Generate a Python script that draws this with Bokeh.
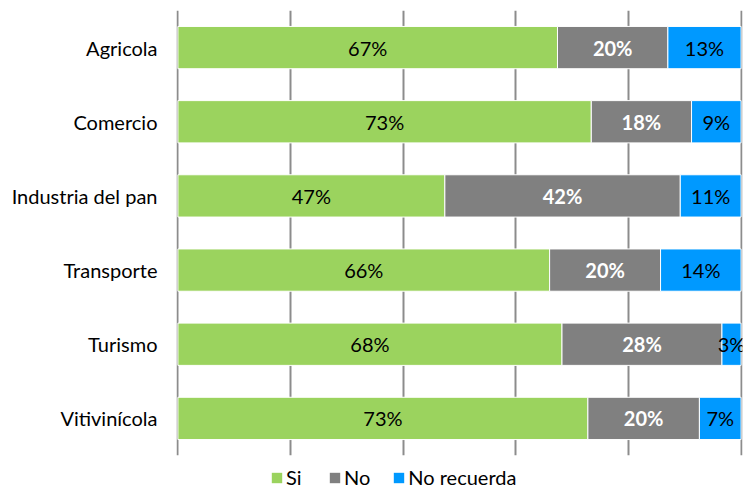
from bokeh.plotting import figure
from bokeh.layouts import column
from bokeh.models import ColumnDataSource, FactorRange, FixedTicker, Legend, LegendItem
from bokeh.core.properties import value
from bokeh.embed import file_html
from bokeh.resources import INLINE

categories = ["Agricola", "Comercio", "Industria del pan", "Transporte", "Turismo", "Vitivinícola"]
si = [67.4, 73.4, 47.4, 66.0, 68.2, 72.8]
no = [19.6, 17.8, 41.8, 19.7, 28.4, 19.8]
no_recuerda = [13.0, 8.8, 10.8, 14.3, 3.4, 7.4]
series_names = ["Si", "No", "No recuerda"]
grid_ticks = [0, 20, 40, 60, 80, 100]
colors = ["#9BD35E", "#808080", "#0099FF"]

FONT = "Lato"
FS = "20px"

src = ColumnDataSource(dict(cat=categories, si=si, no=no, nr=no_recuerda))

p = figure(width=744, height=457, output_backend="svg", toolbar_location=None,
           y_range=FactorRange(*reversed(categories)), x_range=(-0.25, 100.25),
           min_border_left=176, min_border_right=2, min_border_top=10, min_border_bottom=2)
p.outline_line_color = None
p.background_fill_color = "white"

renderers = p.hbar_stack(["si", "no", "nr"], y="cat", height=0.57, fill_color=colors,
                         line_color="white", line_width=1, source=src)

# labels
left_no = [a for a in si]
left_nr = [a + b for a, b in zip(si, no)]
lab_si = ColumnDataSource(dict(x=[v / 2 for v in si], y=categories, t=[f"{round(v)}%" for v in si]))
lab_no = ColumnDataSource(dict(x=[l + v / 2 for l, v in zip(left_no, no)], y=categories, t=[f"{round(v)}%" for v in no]))
lab_nr = ColumnDataSource(dict(x=[l + v / 2 for l, v in zip(left_nr, no_recuerda)], y=categories, t=[f"{round(v)}%" for v in no_recuerda]))

for s, col, style in [(lab_si, "black", "normal"), (lab_no, "white", "bold"), (lab_nr, "black", "normal")]:
    p.text(x="x", y="y", text="t", source=s, text_align="center", text_baseline="middle",
           text_font=value(FONT), text_font_size=FS, text_color=col, text_font_style=style)

p.xaxis.visible = False
p.xgrid.ticker = FixedTicker(ticks=grid_ticks)
p.xgrid.grid_line_color = "#8C8C8C"
p.xgrid.grid_line_width = 2
p.ygrid.grid_line_color = None
p.y_range.range_padding = 0

yax = p.yaxis[0]
yax.axis_line_color = None
yax.major_tick_line_color = None
yax.minor_tick_line_color = None
yax.major_tick_out = 0
yax.major_label_standoff = 19
yax.major_label_text_font = FONT
yax.major_label_text_font_size = FS
yax.major_label_text_color = "black"

# legend strip below the chart (its frame aligns with the chart frame)
p2 = figure(width=744, height=32, output_backend="svg", toolbar_location=None,
            x_range=(0, 1), y_range=(0, 1), min_border=0)
p2.outline_line_color = None
p2.xaxis.visible = False
p2.yaxis.visible = False
p2.grid.visible = False
dummy = [p2.rect(x=[10], y=[10], width=1, height=1, fill_color=c, line_color=None) for c in colors]
legend = Legend(items=[LegendItem(label=n, renderers=[r]) for n, r in zip(series_names, dummy)],
                orientation="horizontal", location=(94, 0), label_text_font=FONT,
                label_text_font_size=FS, label_text_color="black", glyph_width=13, glyph_height=13,
                label_standoff=3, spacing=22, border_line_color=None, padding=2, margin=0,
                background_fill_alpha=0)
p2.add_layout(legend, "center")

open("out.html", "w").write(file_html(column(p, p2, spacing=0), INLINE))
